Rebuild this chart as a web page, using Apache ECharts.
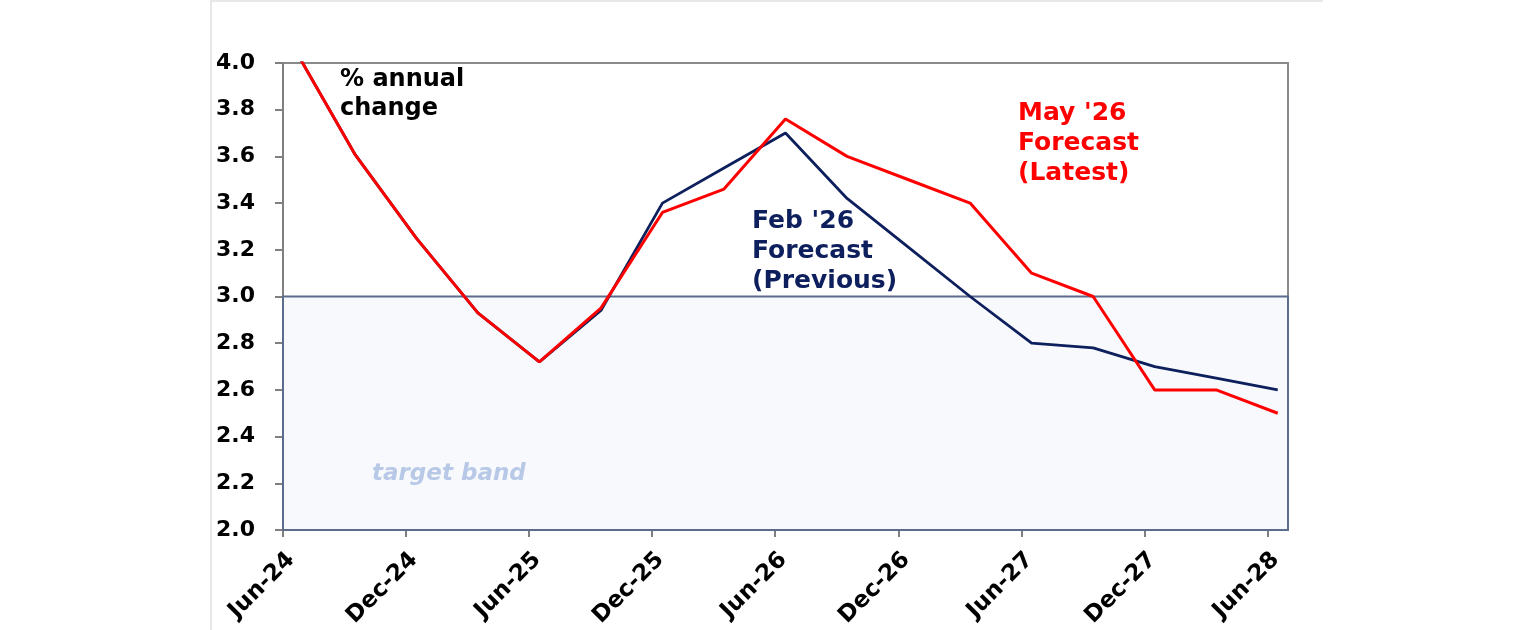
<!DOCTYPE html>
<html>
<head>
<meta charset="utf-8">
<script src="https://cdn.jsdelivr.net/npm/echarts@6/dist/echarts.min.js"></script>
<style>
  html, body { margin: 0; padding: 0; background: #fff; }
  #main { width: 1536px; height: 630px; }
</style>
</head>
<body>
<div id="main"></div>
<script>
// quarterly points, Jun-24 to Jun-28
const quarters = ['Jun-24','Sep-24','Dec-24','Mar-25','Jun-25','Sep-25','Dec-25','Mar-26','Jun-26',
                  'Sep-26','Dec-26','Mar-27','Jun-27','Sep-27','Dec-27','Mar-28','Jun-28'];
const mayForecast = [4.07, 3.61, 3.25, 2.93, 2.72, 2.95, 3.36, 3.46, 3.76, 3.60, 3.50, 3.40, 3.10, 3.00, 2.60, 2.60, 2.50];
const febForecast = [4.07, 3.61, 3.25, 2.93, 2.72, 2.94, 3.40, 3.55, 3.70, 3.42, 3.21, 3.00, 2.80, 2.78, 2.70, 2.65, 2.60];
const tickLabels = ['Jun-24','Dec-24','Jun-25','Dec-25','Jun-26','Dec-26','Jun-27','Dec-27','Jun-28'];
const targetBand = [2.0, 3.0];

const FONT = 'DejaVu Sans';
// months since Jun-24; quarterly points sit mid-month
const monthOf = i => i * 3 + 0.5;
const tickMonths = tickLabels.map((_, i) => i * 6);
const toPoints = vals => vals.map((v, i) => [monthOf(i), v]);

const chart = echarts.init(document.getElementById('main'));

chart.setOption({
    animation: false,
    backgroundColor: '#fff',
    grid: { left: 283, right: 248, top: 63, bottom: 100, show: true, borderColor: '#8a8a8a', borderWidth: 2, backgroundColor: 'transparent' },
    xAxis: {
        type: 'value', min: 0, max: 49,
        axisLine: { show: true, lineStyle: { color: '#5d6b8c', width: 2 } },
        axisTick: { show: true, customValues: tickMonths, length: 7, lineStyle: { color: '#808080', width: 2 } },
        axisLabel: {
            customValues: tickMonths, rotate: 45, margin: 18, verticalAlign: 'top',
            color: '#000', fontFamily: FONT, fontWeight: 'bold', fontSize: 23,
            formatter: v => tickLabels[Math.round(v / 6)] || ''
        },
        splitLine: { show: false }
    },
    yAxis: {
        type: 'value', min: 2, max: 4, interval: 0.2,
        axisLine: { show: true, lineStyle: { color: '#808080', width: 2 } },
        axisTick: { show: true, length: 8, lineStyle: { color: '#808080', width: 2 } },
        axisLabel: { margin: 28, color: '#000', fontFamily: FONT, fontWeight: 'bold', fontSize: 22, formatter: v => v.toFixed(1) },
        splitLine: { show: false }
    },
    series: [
        {
            name: 'band', type: 'line', data: [], z: 1, silent: true,
            markArea: {
                silent: true,
                itemStyle: { color: '#f7f9fd', borderColor: '#5d6b8c', borderWidth: 2 },
                data: [[{ xAxis: 0, yAxis: targetBand[0] }, { xAxis: 49, yAxis: targetBand[1] }]]
            }
        },
        {
            name: "Feb '26 Forecast (Previous)", type: 'line', z: 3,
            data: toPoints(febForecast), symbol: 'none',
            lineStyle: { color: '#0d1f5c', width: 2.8 }
        },
        {
            name: "May '26 Forecast (Latest)", type: 'line', z: 4,
            data: toPoints(mayForecast), symbol: 'none',
            lineStyle: { color: '#ff0000', width: 3 }
        }
    ],
    graphic: [
        { type: 'line', shape: { x1: 211, y1: 0, x2: 211, y2: 630 }, style: { stroke: '#e8e8e8', lineWidth: 2 } },
        { type: 'line', shape: { x1: 211, y1: 1, x2: 1323, y2: 1 }, style: { stroke: '#e8e8e8', lineWidth: 2 } },
        { type: 'text', left: 340, top: 65, z: 10,
          style: { text: '% annual\nchange', fill: '#000', font: 'bold 24px "DejaVu Sans"', lineHeight: 29 } },
        { type: 'text', left: 1018, top: 98, z: 10,
          style: { text: "May '26\nForecast\n(Latest)", fill: '#ff0000', font: 'bold 25px "DejaVu Sans"', lineHeight: 30 } },
        { type: 'text', left: 752, top: 206, z: 10,
          style: { text: "Feb '26\nForecast\n(Previous)", fill: '#0d1f5c', font: 'bold 25px "DejaVu Sans"', lineHeight: 30 } },
        { type: 'text', left: 372, top: 463, z: 10,
          style: { text: 'target band', fill: '#b8c9e8', font: 'italic bold 23px "DejaVu Sans"' } }
    ]
});

window.onresize = () => chart.resize();
</script>
</body>
</html>
